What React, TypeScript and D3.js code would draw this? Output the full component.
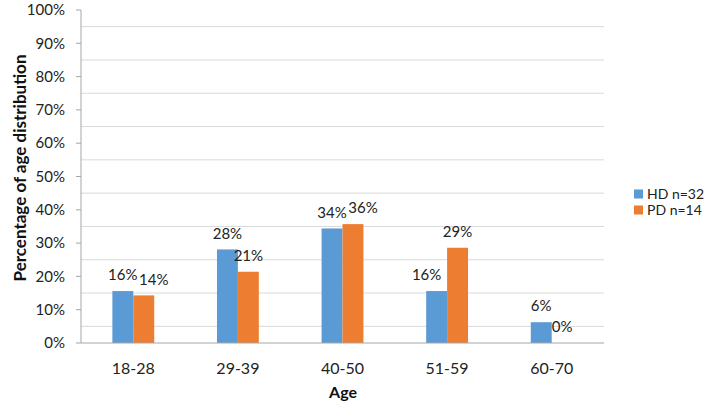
import * as d3 from "d3";

const ageGroups = ["18-28", "29-39", "40-50", "51-59", "60-70"];
const hdValues = [15.6, 28.1, 34.4, 15.6, 6.25];
const pdValues = [14.3, 21.4, 35.7, 28.6, 0];
const hdLabels = ["16%", "28%", "34%", "16%", "6%"];
const pdLabels = ["14%", "21%", "36%", "29%", "0%"];
const yTicks = [0, 10, 20, 30, 40, 50, 60, 70, 80, 90, 100];
const gridLevels = [5, 15, 25, 35, 45, 55, 65, 75, 85, 95];
const seriesNames = ["HD n=32", "PD n=14"];

const HD_COLOR = "#5b9bd5";
const PD_COLOR = "#ed7d31";
const FONT = "Lato, 'Open Sans', sans-serif";

export default function App() {
  const width = 709;
  const height = 403;
  const left = 81;
  const right = 604;
  const top = 10;
  const bottom = 343;

  const x = d3.scaleBand().domain(ageGroups).range([left, right]);
  const y = d3.scaleLinear().domain([0, 100]).range([bottom, top]);
  const barW = x.bandwidth() * 0.2;

  // data label positions: nudge labels sideways so they don't run into each other or the next bar
  const labelW = 29;
  const labels = ageGroups.map((g, i) => {
    const c = (x(g) ?? 0) + x.bandwidth() / 2;
    let hx = c - barW / 2;
    const hy = y(hdValues[i]) - 16;
    let px = c + barW / 2;
    const py = y(pdValues[i]) - 16;
    if (Math.abs(hy - py) < 14 && px - hx < labelW + 2) {
      px = hx + labelW + 2;
    } else if (y(pdValues[i]) < hy + 8 && hx + labelW / 2 > c) {
      hx = c - 6 - labelW / 2;
    }
    return { hx, hy, px, py };
  });

  return (
    <svg width={width} height={height} style={{ position: "absolute", left: 0, top: 0 }}>
      <rect width={width} height={height} fill="#fff" />
      {gridLevels.map((v) => (
        <line key={v} x1={left} x2={right} y1={y(v)} y2={y(v)} stroke="#d9d9d9" strokeWidth={1} />
      ))}
      <line x1={left} x2={left} y1={top} y2={bottom} stroke="#a6a6a6" />
      {yTicks.map((v) => (
        <g key={v}>
          <line x1={left - 5} x2={left} y1={y(v)} y2={y(v)} stroke="#a6a6a6" />
          <text x={65} y={y(v)} dy="0.35em" textAnchor="end" fontFamily={FONT} fontSize={15} fill="#222">
            {v}%
          </text>
        </g>
      ))}
      {ageGroups.map((g, i) => {
        const c = (x(g) ?? 0) + x.bandwidth() / 2;
        return (
          <g key={g}>
            <rect x={c - barW} y={y(hdValues[i])} width={barW} height={bottom - y(hdValues[i])} fill={HD_COLOR} />
            <rect x={c} y={y(pdValues[i])} width={barW} height={bottom - y(pdValues[i])} fill={PD_COLOR} />
            <text x={c} y={368} dy="0.35em" textAnchor="middle" fontFamily={FONT} fontSize={16} fill="#222">
              {g}
            </text>
          </g>
        );
      })}
      <line x1={left} x2={right} y1={bottom} y2={bottom} stroke="#a6a6a6" />
      {labels.map((l, i) => (
        <g key={i} fontFamily={FONT} fontSize={15} fill="#222" textAnchor="middle">
          <text x={l.hx} y={l.hy} dy="0.35em">{hdLabels[i]}</text>
          <text x={l.px} y={l.py} dy="0.35em">{pdLabels[i]}</text>
        </g>
      ))}
      <text x={343} y={392} dy="0.35em" textAnchor="middle" fontFamily={FONT} fontSize={16} fontWeight="bold" fill="#111">
        Age
      </text>
      <text
        transform={`translate(20,168) rotate(-90)`}
        dy="0.35em"
        textAnchor="middle"
        fontFamily={FONT}
        fontSize={17}
        fontWeight="bold"
        fill="#111"
      >
        Percentage of age distribution
      </text>
      {seriesNames.map((s, i) => (
        <g key={s} transform={`translate(634,${194 + i * 16})`}>
          <rect x={0} y={-4.5} width={9} height={9} fill={i === 0 ? HD_COLOR : PD_COLOR} />
          <text x={13} y={0} dy="0.35em" fontFamily={FONT} fontSize={14} fill="#222">
            {s}
          </text>
        </g>
      ))}
    </svg>
  );
}
